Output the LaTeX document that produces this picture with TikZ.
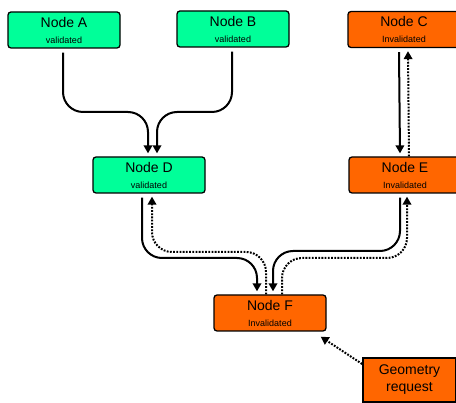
\documentclass[tikz,border=0pt]{standalone}
\usepackage{fontspec}
\setmainfont{Liberation Sans}
\usetikzlibrary{arrows.meta}
\definecolor{okgreen}{RGB}{0,255,153}
\definecolor{badorange}{RGB}{255,102,0}
\begin{document}
\begin{tikzpicture}[x=1pt,y=-1pt,
  box/.style={draw=black, line width=1.3pt, rounded corners=3pt,
    minimum width=112pt, minimum height=36pt, inner sep=0pt, align=center,
    font=\fontsize{14}{16}\selectfont},
  valid/.style={box, fill=okgreen},
  invalid/.style={box, fill=badorange},
  reqbox/.style={draw=black, line width=1.7pt, fill=badorange,
    minimum width=93pt, minimum height=44pt, inner sep=0pt, align=center,
    font=\fontsize{14}{17}\selectfont},
  tip/.style={-{Triangle[length=8pt,width=8.5pt]}},
  flow/.style={tip, line width=2pt, rounded corners=20pt},
  back/.style={tip, line width=2pt, rounded corners=20pt, dash pattern=on 1.8pt off 1.4pt}]
\useasboundingbox (0,0) rectangle (456,403);
\clip (0,0) rectangle (456,403);
\fill[white] (0,0) rectangle (456,403);

% nodes
\node[valid]   (A) at (64,30)    {Node A\\{\fontsize{9}{16.5}\selectfont validated}};
\node[valid]   (B) at (233,29)   {Node B\\{\fontsize{9}{16.5}\selectfont validated}};
\node[invalid] (C) at (404,29.5) {Node C\\{\fontsize{9}{16.5}\selectfont Invalidated}};
\node[valid]   (D) at (149,175)  {Node D\\{\fontsize{9}{16.5}\selectfont validated}};
\node[invalid] (E) at (405,175)  {Node E\\{\fontsize{9}{16.5}\selectfont Invalidated}};
\node[invalid] (F) at (270,313)  {Node F\\{\fontsize{9}{16.5}\selectfont Invalidated}};
\node[reqbox]  (G) at (409.5,380){Geometry\\request};

% A, B -> D
\draw[flow] ([xshift=-1pt,yshift=-4pt]A.south) |- (148,112) -- ([xshift=-1pt,yshift=3pt]D.north);
\draw[flow] ([xshift=-1pt,yshift=-4pt]B.south) |- (157,112) -- ([xshift=8pt,yshift=3pt]D.north);

% C <-> E
\draw[tip, line width=2pt] ([xshift=-5pt,yshift=-4pt]C.south) -- ([xshift=-5pt,yshift=3pt]E.north);
\draw[back] ([xshift=4pt]E.north) -- ([xshift=4pt,yshift=-3pt]C.south);

% D <-> F
\draw[flow] ([xshift=-7pt,yshift=-4pt]D.south) |- (257,258) -- ([xshift=-13pt,yshift=3pt]F.north);
\draw[back] ([xshift=-4pt]F.north) |- (152,252) -- ([xshift=3pt,yshift=-3pt]D.south);

% E <-> F
\draw[flow] ([xshift=-5pt,yshift=-4pt]E.south) |- (273,251) -- ([xshift=3pt,yshift=3pt]F.north);
\draw[back] ([xshift=12pt]F.north) |- (407,258) -- ([xshift=2pt,yshift=-3pt]E.south);

% request -> F
\draw[tip, line width=2pt, dash pattern=on 1.8pt off 1.4pt] ([yshift=16pt]G.west) -- ([xshift=-6pt,yshift=-5pt]F.south east);
\end{tikzpicture}
\end{document}
